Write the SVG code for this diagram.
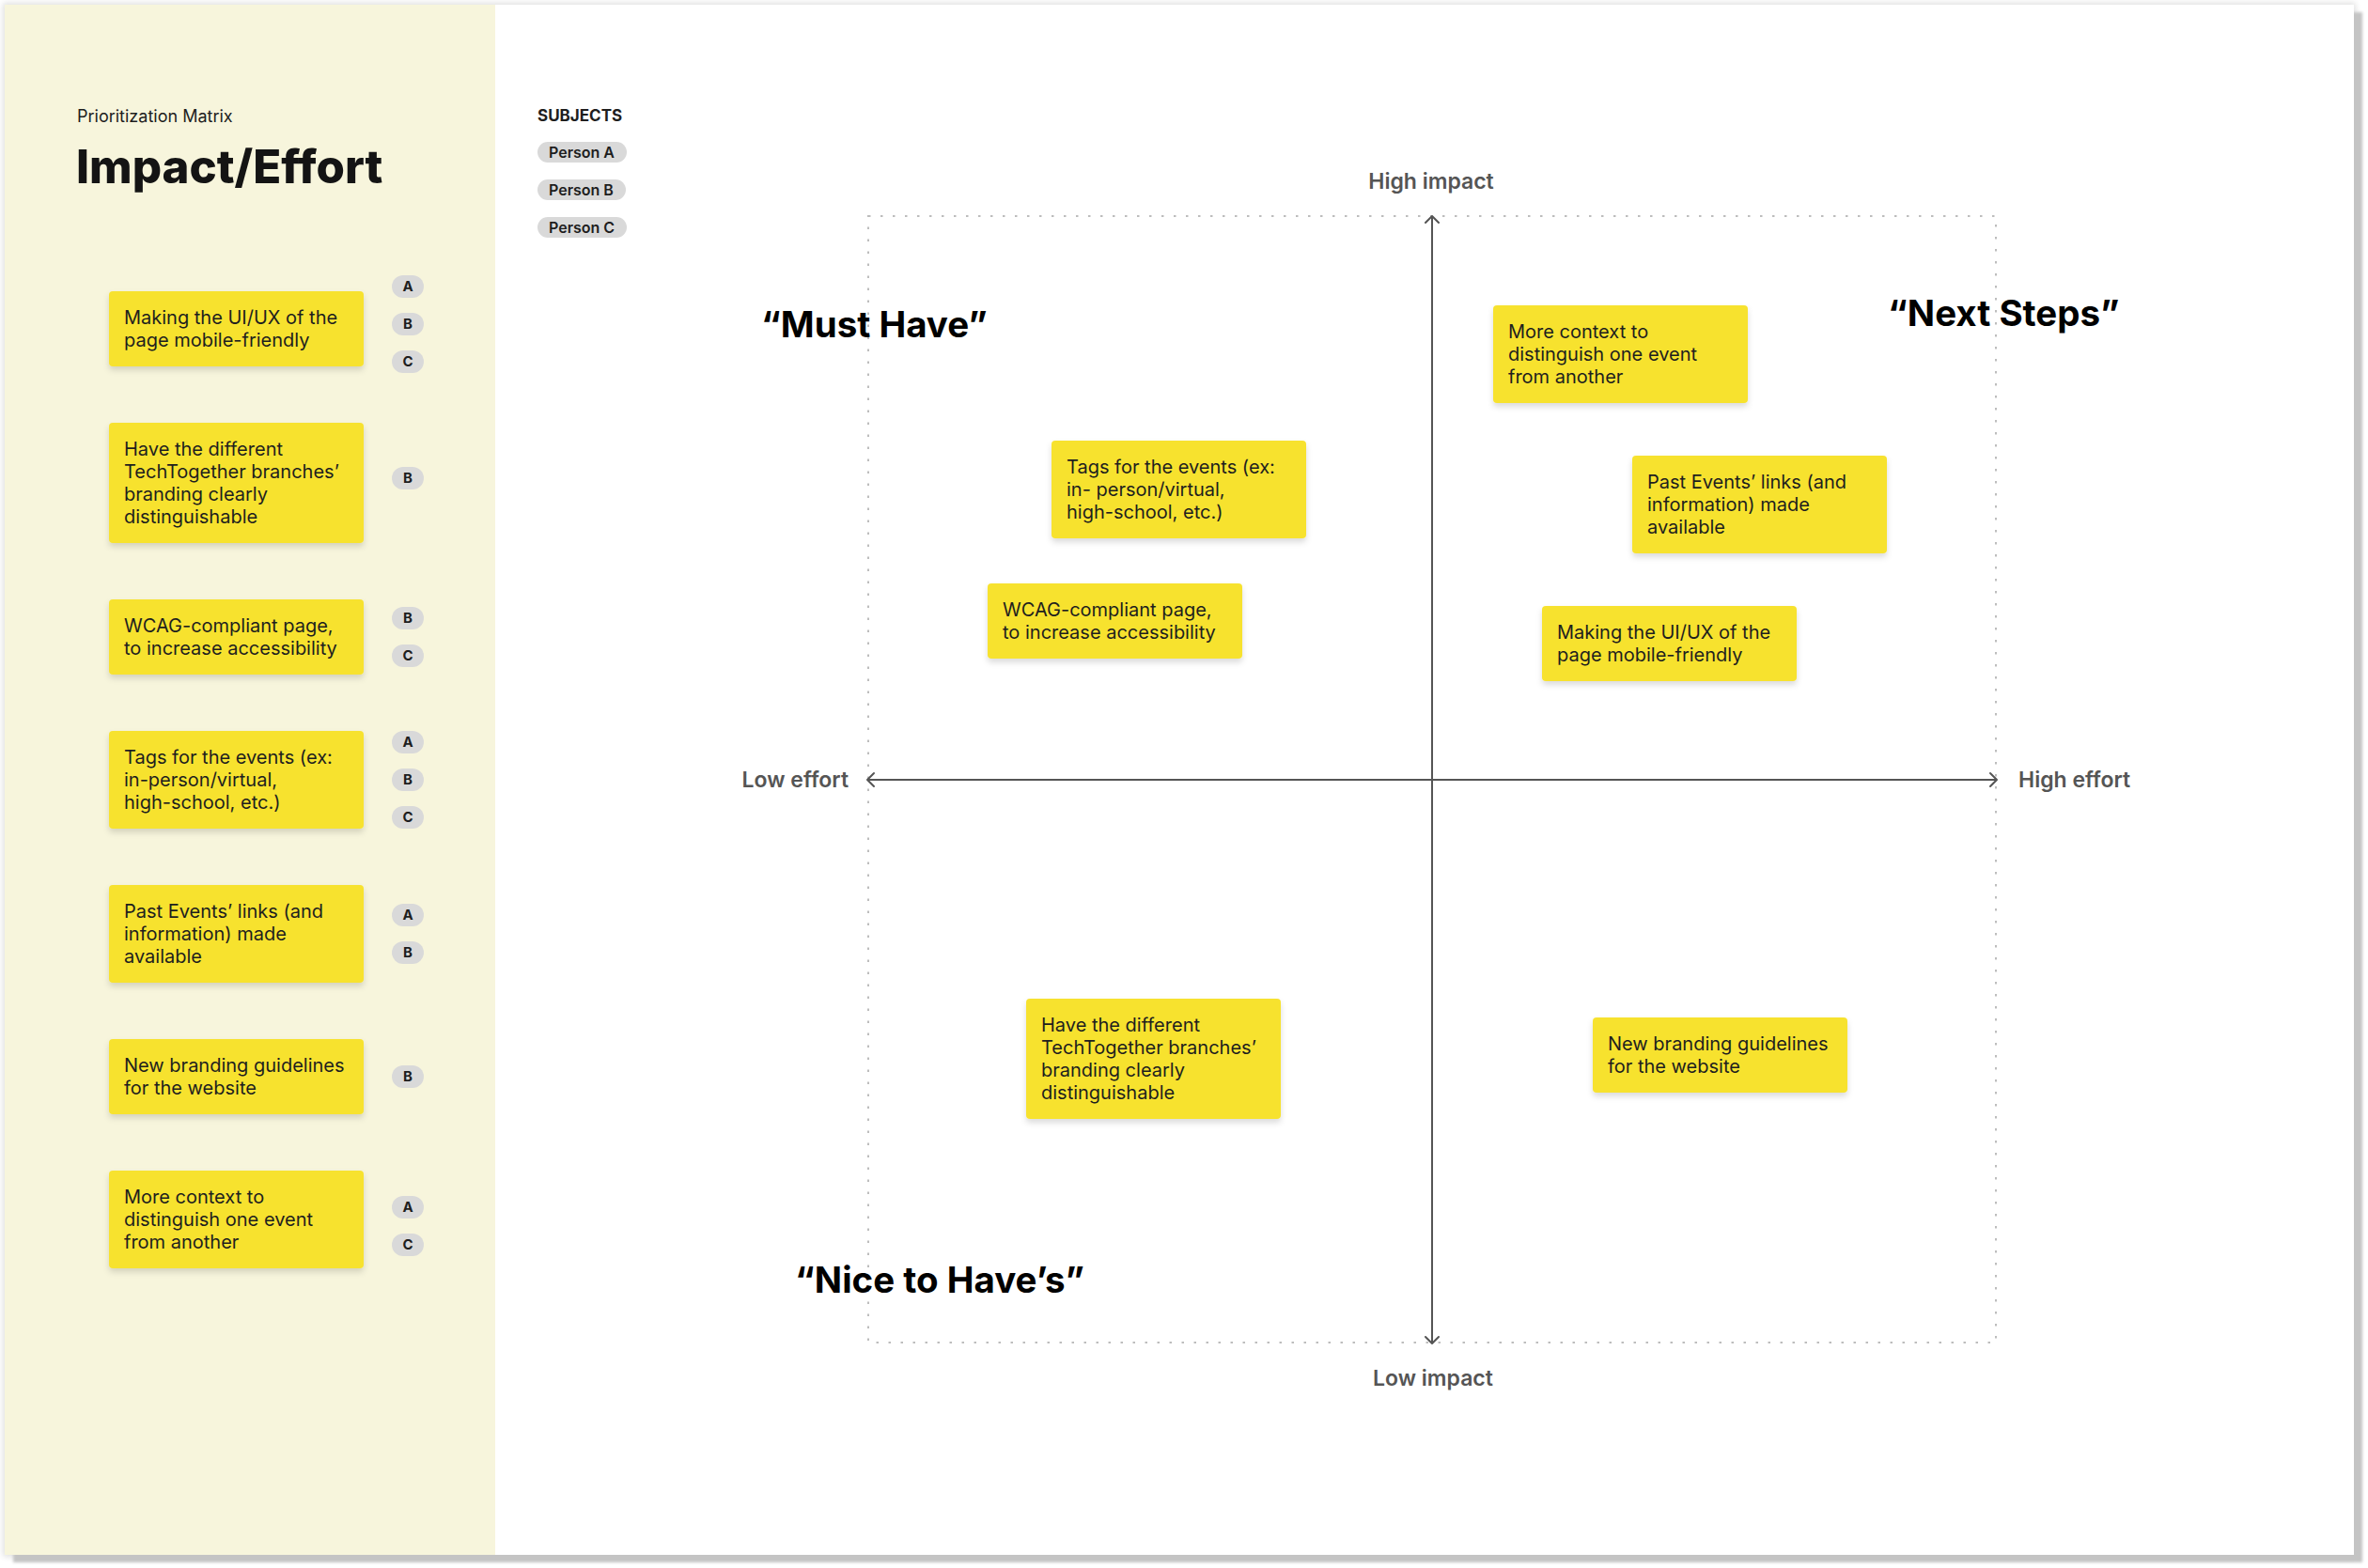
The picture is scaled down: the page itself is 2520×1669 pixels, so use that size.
<svg xmlns="http://www.w3.org/2000/svg" width="2520" height="1669" viewBox="0 0 2520 1669">
<defs>
<filter id="cardShadow" x="-5%" y="-5%" width="110%" height="110%">
<feGaussianBlur stdDeviation="1.5"/>
</filter>
<filter id="ambient" x="-5%" y="-5%" width="110%" height="110%">
<feGaussianBlur stdDeviation="3"/>
</filter>
<filter id="noteShadow" x="-10%" y="-10%" width="120%" height="130%">
<feDropShadow dx="0" dy="4" stdDeviation="3" flood-color="#000" flood-opacity="0.14"/>
</filter>
<marker id="chev" viewBox="-10 -10 20 20" markerWidth="20" markerHeight="20" markerUnits="userSpaceOnUse" refX="0" refY="0" orient="auto-start-reverse">
<path d="M-7,-7 L0,0 L-7,7" fill="none" stroke="#555555" stroke-width="2" stroke-linecap="round" stroke-linejoin="round"/>
</marker>
<style>
.note{fill:#F7E22F;filter:url(#noteShadow);}
.nt{font-family:Inter,"Liberation Sans",sans-serif;font-size:20px;fill:#1E1E1E;}
.badge{fill:#D9D9D9;}
.bt{font-family:Inter,"Liberation Sans",sans-serif;font-size:15px;font-weight:700;fill:#1E1E1E;text-anchor:middle;}
.pill{fill:#D9D9D9;}
.pt{font-family:Inter,"Liberation Sans",sans-serif;font-size:16px;font-weight:600;fill:#1E1E1E;}
.axl{font-family:Inter,"Liberation Sans",sans-serif;font-size:23px;font-weight:600;fill:#555555;}
.quad{font-family:Inter,"Liberation Sans",sans-serif;font-size:38.5px;font-weight:700;fill:#000000;}
.axis{stroke:#555555;stroke-width:2;fill:none;}
</style>
</defs>
<rect x="0" y="0" width="2520" height="1669" fill="#FFFFFF"/>
<g id="card">
<rect x="3" y="3" width="2504" height="1654" fill="#000" opacity="0.12" filter="url(#ambient)"/>
<rect x="14" y="13" width="2500" height="1650" fill="#C4C4C4" filter="url(#cardShadow)"/>
<rect x="5" y="5" width="2500" height="1650" fill="#FFFFFF"/>
<rect x="5" y="5" width="522" height="1650" fill="#F7F5DC"/>
</g>
<g id="header">
<text x="82" y="130" font-family="Inter, 'Liberation Sans', sans-serif" font-size="18" fill="#1E1E1E">Prioritization Matrix</text>
<text x="81" y="195" font-family="Inter, 'Liberation Sans', sans-serif" font-size="49.2" font-weight="800" fill="#141414">Impact/Effort</text>
</g>
<g id="subjects">
<text x="572" y="129" font-family="Inter, 'Liberation Sans', sans-serif" font-size="17" font-weight="700" fill="#1E1E1E">SUBJECTS</text>
<rect class="pill" x="572" y="151" width="95" height="22" rx="11"/>
<text class="pt" x="584" y="168">Person A</text>
<rect class="pill" x="572" y="191" width="94" height="22" rx="11"/>
<text class="pt" x="584" y="208">Person B</text>
<rect class="pill" x="572" y="231" width="95" height="22" rx="11"/>
<text class="pt" x="584" y="248">Person C</text>
</g>
<g id="list-mobile">
<rect class="note" x="116" y="310" width="271" height="80" rx="4"/>
<text class="nt"><tspan x="132" y="344.5">Making the UI/UX of the</tspan><tspan x="132" y="368.5">page mobile-friendly</tspan></text>
<rect class="badge" x="417" y="293" width="34" height="24" rx="12"/><text class="bt" x="434" y="310">A</text>
<rect class="badge" x="417" y="333" width="34" height="24" rx="12"/><text class="bt" x="434" y="350">B</text>
<rect class="badge" x="417" y="373" width="34" height="24" rx="12"/><text class="bt" x="434" y="390">C</text>
</g>
<g id="list-branding-branches">
<rect class="note" x="116" y="450" width="271" height="128" rx="4"/>
<text class="nt"><tspan x="132" y="484.5">Have the different</tspan><tspan x="132" y="508.5">TechTogether branches’</tspan><tspan x="132" y="532.5">branding clearly</tspan><tspan x="132" y="556.5">distinguishable</tspan></text>
<rect class="badge" x="417" y="497" width="34" height="24" rx="12"/><text class="bt" x="434" y="514">B</text>
</g>
<g id="list-wcag">
<rect class="note" x="116" y="638" width="271" height="80" rx="4"/>
<text class="nt"><tspan x="132" y="672.5">WCAG-compliant page,</tspan><tspan x="132" y="696.5">to increase accessibility</tspan></text>
<rect class="badge" x="417" y="646" width="34" height="24" rx="12"/><text class="bt" x="434" y="663">B</text>
<rect class="badge" x="417" y="686" width="34" height="24" rx="12"/><text class="bt" x="434" y="703">C</text>
</g>
<g id="list-tags">
<rect class="note" x="116" y="778" width="271" height="104" rx="4"/>
<text class="nt"><tspan x="132" y="812.5">Tags for the events (ex:</tspan><tspan x="132" y="836.5">in-person/virtual,</tspan><tspan x="132" y="860.5">high-school, etc.)</tspan></text>
<rect class="badge" x="417" y="778" width="34" height="24" rx="12"/><text class="bt" x="434" y="795">A</text>
<rect class="badge" x="417" y="818" width="34" height="24" rx="12"/><text class="bt" x="434" y="835">B</text>
<rect class="badge" x="417" y="858" width="34" height="24" rx="12"/><text class="bt" x="434" y="875">C</text>
</g>
<g id="list-past-events">
<rect class="note" x="116" y="942" width="271" height="104" rx="4"/>
<text class="nt"><tspan x="132" y="976.5">Past Events’ links (and</tspan><tspan x="132" y="1000.5">information) made</tspan><tspan x="132" y="1024.5">available</tspan></text>
<rect class="badge" x="417" y="962" width="34" height="24" rx="12"/><text class="bt" x="434" y="979">A</text>
<rect class="badge" x="417" y="1002" width="34" height="24" rx="12"/><text class="bt" x="434" y="1019">B</text>
</g>
<g id="list-new-branding">
<rect class="note" x="116" y="1106" width="271" height="80" rx="4"/>
<text class="nt"><tspan x="132" y="1140.5">New branding guidelines</tspan><tspan x="132" y="1164.5">for the website</tspan></text>
<rect class="badge" x="417" y="1134" width="34" height="24" rx="12"/><text class="bt" x="434" y="1151">B</text>
</g>
<g id="list-context">
<rect class="note" x="116" y="1246" width="271" height="104" rx="4"/>
<text class="nt"><tspan x="132" y="1280.5">More context to</tspan><tspan x="132" y="1304.5">distinguish one event</tspan><tspan x="132" y="1328.5">from another</tspan></text>
<rect class="badge" x="417" y="1273" width="34" height="24" rx="12"/><text class="bt" x="434" y="1290">A</text>
<rect class="badge" x="417" y="1313" width="34" height="24" rx="12"/><text class="bt" x="434" y="1330">C</text>
</g>
<g id="matrix-frame">
<rect x="924" y="230" width="1200" height="1199" fill="none" stroke="#BDBDBD" stroke-width="2" stroke-dasharray="2.5 10.5"/>
</g>
<g id="connectors">
<line class="axis" x1="1524" y1="1430" x2="1524" y2="230" marker-start="url(#chev)" marker-end="url(#chev)"/>
<line class="axis" x1="923" y1="830" x2="2125" y2="830" marker-start="url(#chev)" marker-end="url(#chev)"/>
</g>
<g id="axis-labels">
<text class="axl" x="1523" y="201" text-anchor="middle">High impact</text>
<text class="axl" x="1525" y="1475" text-anchor="middle">Low impact</text>
<text class="axl" x="903" y="838" text-anchor="end">Low effort</text>
<text class="axl" x="2148" y="838">High effort</text>
</g>
<g id="quadrant-labels">
<text class="quad" x="810" y="359">“Must Have”</text>
<text class="quad" x="2009" y="347">“Next Steps”</text>
<text class="quad" x="846" y="1376">“Nice to Have’s”</text>
</g>
<g id="m-context">
<rect class="note" x="1589" y="325" width="271" height="104" rx="4"/>
<text class="nt"><tspan x="1605" y="359.5">More context to</tspan><tspan x="1605" y="383.5">distinguish one event</tspan><tspan x="1605" y="407.5">from another</tspan></text>
</g>
<g id="m-tags">
<rect class="note" x="1119" y="469" width="271" height="104" rx="4"/>
<text class="nt"><tspan x="1135" y="503.5">Tags for the events (ex:</tspan><tspan x="1135" y="527.5">in- person/virtual,</tspan><tspan x="1135" y="551.5">high-school, etc.)</tspan></text>
</g>
<g id="m-past-events">
<rect class="note" x="1737" y="485" width="271" height="104" rx="4"/>
<text class="nt"><tspan x="1753" y="519.5">Past Events’ links (and</tspan><tspan x="1753" y="543.5">information) made</tspan><tspan x="1753" y="567.5">available</tspan></text>
</g>
<g id="m-wcag">
<rect class="note" x="1051" y="621" width="271" height="80" rx="4"/>
<text class="nt"><tspan x="1067" y="655.5">WCAG-compliant page,</tspan><tspan x="1067" y="679.5">to increase accessibility</tspan></text>
</g>
<g id="m-mobile">
<rect class="note" x="1641" y="645" width="271" height="80" rx="4"/>
<text class="nt"><tspan x="1657" y="679.5">Making the UI/UX of the</tspan><tspan x="1657" y="703.5">page mobile-friendly</tspan></text>
</g>
<g id="m-branding-branches">
<rect class="note" x="1092" y="1063" width="271" height="128" rx="4"/>
<text class="nt"><tspan x="1108" y="1097.5">Have the different</tspan><tspan x="1108" y="1121.5">TechTogether branches’</tspan><tspan x="1108" y="1145.5">branding clearly</tspan><tspan x="1108" y="1169.5">distinguishable</tspan></text>
</g>
<g id="m-new-branding">
<rect class="note" x="1695" y="1083" width="271" height="80" rx="4"/>
<text class="nt"><tspan x="1711" y="1117.5">New branding guidelines</tspan><tspan x="1711" y="1141.5">for the website</tspan></text>
</g>
</svg>
